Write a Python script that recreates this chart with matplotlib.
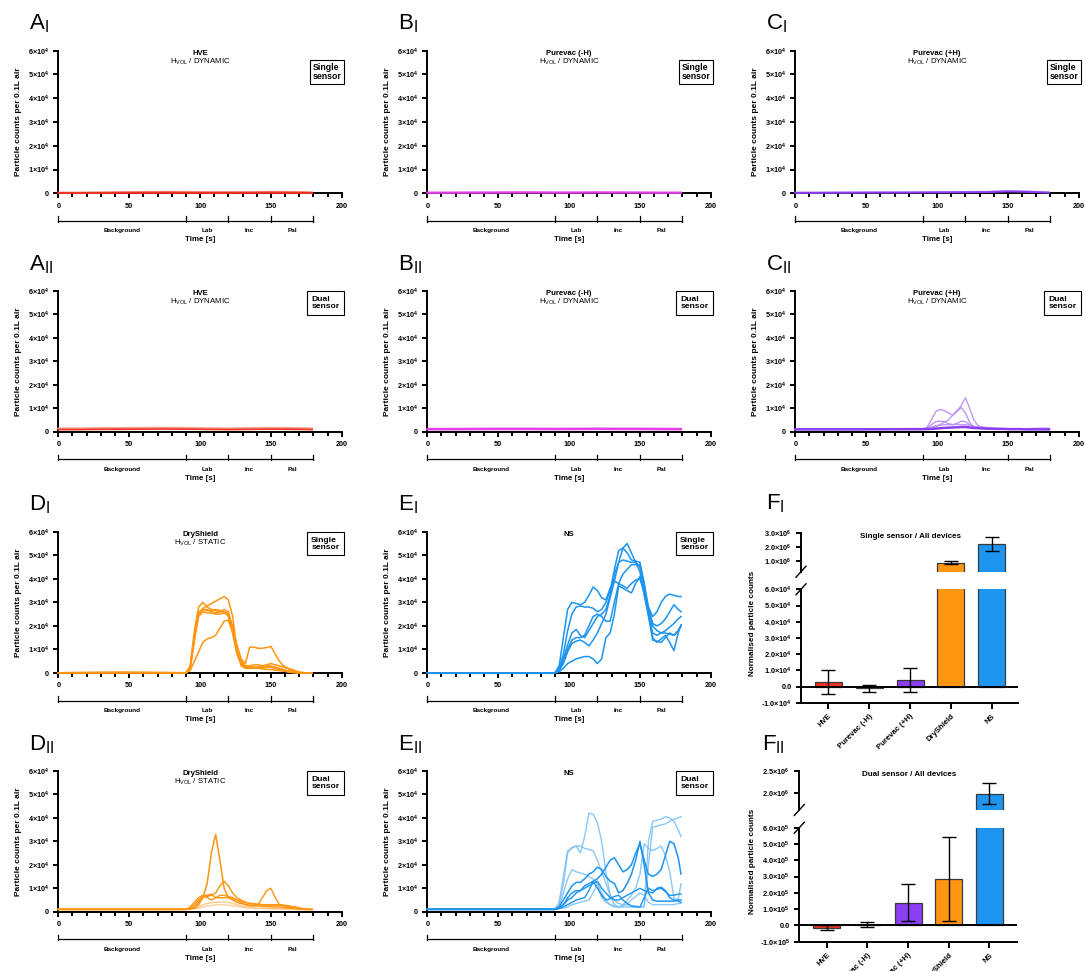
import numpy as np
import matplotlib
matplotlib.use("Agg")
import matplotlib.pyplot as plt
from matplotlib.lines import Line2D
from matplotlib.transforms import blended_transform_factory

plt.rcParams['font.family'] = ['Liberation Sans', 'DejaVu Sans']
plt.rcParams['mathtext.fontset'] = 'custom'
plt.rcParams['mathtext.rm'] = 'Liberation Sans'
plt.rcParams['mathtext.it'] = 'Liberation Sans:italic'
plt.rcParams['mathtext.bf'] = 'Liberation Sans:bold'

W, H, DPI = 1086, 971, 100

# ------------------------------------------------------------------ data
# time points [s]
time_flat = [0, 15, 30, 45, 60, 75, 90, 105, 120, 135, 150, 165, 179]
time_grid = [0, 45, 90, 93, 96, 99, 102, 105, 108, 111, 114, 117, 120, 123, 126, 129,
             132, 135, 138, 141, 144, 147, 150, 153, 156, 159, 162, 165, 168, 171, 174, 177, 179]

# particle counts per 0.1 L air, in thousands
hve_s_1 = [0.2, 0.2, 0.25, 0.3, 0.3, 0.35, 0.3, 0.25, 0.3, 0.3, 0.35, 0.3, 0.25]
hve_s_2 = [0.3, 0.3, 0.4, 0.5, 0.6, 0.7, 0.7, 0.6, 0.5, 0.5, 0.7, 0.7, 0.4]
hve_s_3 = [0.1, 0.1, 0.15, 0.2, 0.2, 0.2, 0.15, 0.1, 0.15, 0.2, 0.2, 0.15, 0.1]
hve_d_1 = [1.2, 1.2, 1.3, 1.3, 1.4, 1.4, 1.3, 1.2, 1.2, 1.3, 1.4, 1.3, 1.2]
hve_d_2 = [0.9, 0.9, 1.0, 1.0, 1.1, 1.2, 1.1, 1.0, 0.9, 1.0, 1.1, 1.0, 0.9]
hve_d_3 = [1.5, 1.5, 1.6, 1.7, 1.7, 1.8, 1.7, 1.6, 1.5, 1.6, 1.7, 1.7, 1.5]
pm_s_1 = [0.2, 0.2, 0.25, 0.25, 0.3, 0.3, 0.25, 0.25, 0.3, 0.3, 0.25, 0.2, 0.2]
pm_s_2 = [0.35, 0.35, 0.4, 0.4, 0.45, 0.45, 0.4, 0.4, 0.45, 0.4, 0.4, 0.35, 0.35]
pm_d_1 = [1.2, 1.2, 1.25, 1.3, 1.3, 1.3, 1.25, 1.3, 1.35, 1.3, 1.3, 1.25, 1.2]
pm_d_2 = [0.9, 0.9, 0.95, 1.0, 1.0, 1.0, 0.95, 1.0, 1.05, 1.0, 1.0, 0.95, 0.9]
pp_s_1 = [0.2, 0.2, 0.25, 0.3, 0.3, 0.3, 0.35, 0.4, 0.45, 0.5, 0.8, 0.6, 0.3]
pp_s_2 = [0.35, 0.35, 0.4, 0.4, 0.45, 0.45, 0.5, 0.6, 0.6, 0.7, 1.0, 0.8, 0.4]

pp_d_1 = [1, 1, 1, 1.2, 1.5, 2, 3, 4, 5, 7, 9, 11, 14.5, 10, 5, 2.5, 2, 1.8, 1.6, 1.5, 1.4, 1.3, 1.3, 1.2, 1.2, 1.2, 1.2, 1.3, 1.4, 1.5, 1.5, 1.5, 1.5]
pp_d_2 = [1, 1, 1, 2, 5, 8.5, 9.5, 9, 8, 7, 8.5, 10.3, 8, 4, 2, 1.6, 1.5, 1.4, 1.3, 1.3, 1.2, 1.2, 1.2, 1.2, 1.1, 1.1, 1.1, 1.1, 1.1, 1, 1, 1, 1]
pp_d_3 = [1, 1, 1, 1.5, 3, 4.2, 4.5, 4.3, 3.5, 3, 3.5, 4.5, 4.3, 3, 2, 1.6, 1.4, 1.3, 1.2, 1.2, 1.2, 1.1, 1.1, 1.1, 1.1, 1.1, 1, 1, 1, 1, 1, 1, 1]
pp_d_4 = [1, 1, 1, 1.3, 2, 2.5, 2.8, 3, 3, 3, 3.2, 3, 3, 2.7, 2.3, 2, 1.6, 1.4, 1.3, 1.2, 1.2, 1.1, 1.1, 1.1, 1.1, 1, 1, 1, 1, 1, 1, 1, 1]
pp_d_5 = [1, 1, 1.1, 1.1, 1.2, 1.3, 1.5, 1.6, 1.7, 1.8, 1.9, 2, 2, 1.8, 1.6, 1.5, 1.4, 1.3, 1.3, 1.2, 1.2, 1.2, 1.1, 1.1, 1.1, 1.1, 1, 1, 1, 1, 1, 1, 1]

ds_s_1 = [0.1, 0.2, 0.1, 2, 14, 25, 27.5, 28.5, 29.5, 30.5, 31.5, 32.5, 31, 24, 10, 4, 2.5, 2.5, 2.5, 2.5, 2.5, 2.5, 2.5, 2.2, 1.8, 1.2, 0.8, 0.4, 0.2, 0.1, 0.1, 0.1, 0.1]
ds_s_2 = [0.1, 0.3, 0.1, 3, 18, 28, 30, 28, 27, 26.5, 26, 26, 25, 18, 12, 6, 4, 11, 11, 10.5, 10.5, 10.8, 11.3, 8, 5, 3, 2, 1, 0.5, 0.2, 0.1, 0.1, 0.1]
ds_s_3 = [0.1, 0.2, 0.1, 2, 16, 26, 27, 26.5, 26.5, 27, 26.5, 26, 24, 17, 8, 4, 3, 3, 3.5, 3.5, 3, 3.5, 4, 3.5, 3, 2.5, 2, 1.5, 0.8, 0.3, 0.1, 0.1, 0.1]
ds_s_4 = [0.1, 0.1, 0.1, 1.5, 14, 24, 26, 25.5, 25.5, 25, 25, 25.5, 25, 20, 11, 4, 2.5, 2.5, 2.5, 2, 2, 2.5, 2.5, 2, 1.5, 1, 0.5, 0.2, 0.1, 0.1, 0.1, 0.1, 0.1]
ds_s_5 = [0.1, 0.1, 0.1, 1, 5, 9, 13, 14.5, 15, 16, 19, 22, 22.5, 17, 10, 5, 3, 2.5, 2, 2, 1.8, 1.5, 1.5, 1.2, 1, 0.8, 0.5, 0.3, 0.1, 0.1, 0.1, 0.1, 0.1]
ds_s_6 = [0.1, 0.2, 0.1, 2, 15, 25, 27, 27, 26, 25.5, 26, 27, 26, 19, 9, 3, 2, 2, 2, 2.5, 3, 3, 3, 2.5, 2, 1.5, 1, 0.6, 0.3, 0.1, 0.1, 0.1, 0.1]

ds_d_1 = [1, 1, 1, 1.2, 1.5, 3, 6, 12, 25, 33, 22, 10, 6, 5, 4, 3.5, 3, 2.8, 2.5, 2.5, 2.3, 2.2, 2.1, 2, 2, 1.8, 1.6, 1.5, 1.3, 1.2, 1.1, 1, 1]
ds_d_2 = [1, 1, 1, 2, 4, 6, 7, 6.5, 7, 8, 11, 13, 11, 8, 6, 5, 4, 3.5, 3.5, 3.2, 3, 3, 3, 3, 3, 2.8, 2.5, 2, 1.5, 1.2, 1, 1, 1]
ds_d_3 = [1, 1, 1, 1.5, 3, 5, 6.5, 6, 5, 6, 7, 7, 6.5, 6, 5, 4, 3, 2.5, 2.5, 3, 6, 9, 10, 6, 3, 2.5, 2, 1.8, 1.5, 1.2, 1, 1, 1]
ds_d_4 = [1, 1, 1, 1.2, 2, 4, 7, 7, 7.5, 6, 6, 6, 6, 5.5, 5, 4.5, 4, 3.5, 3.2, 3, 3, 2.8, 2.8, 2.8, 2.8, 2.7, 2.5, 2.2, 2, 1.5, 1.2, 1, 1]
ds_d_5 = [1, 1, 1, 1.2, 1.5, 2, 3, 3.5, 3.8, 4, 4, 4.2, 4, 3.5, 3, 2.5, 2, 1.8, 1.6, 1.5, 1.5, 1.4, 1.4, 1.3, 1.3, 1.2, 1.2, 1.1, 1.1, 1, 1, 1, 1]
ds_d_6 = [0.8, 0.8, 0.8, 1, 1.3, 1.5, 2, 2.5, 2.5, 3, 3, 3, 2.8, 2.5, 2.2, 2, 1.8, 1.6, 1.5, 1.4, 1.3, 1.3, 1.2, 1.2, 1.1, 1.1, 1, 1, 0.9, 0.9, 0.8, 0.8, 0.8]

ns_s_1 = [0.1, 0.1, 0.1, 3, 15, 27, 30, 29.5, 29, 30, 33, 36.5, 35, 32, 31, 36, 39, 38, 37, 36, 38, 39.5, 40, 34, 28, 24, 26, 30, 32.5, 33.5, 33, 32.5, 32.5]
ns_s_2 = [0.1, 0.1, 0.1, 2, 8, 18, 25, 28, 28.5, 28, 28, 27.5, 26, 27, 30, 35, 44, 52, 53, 51, 48, 47.5, 47, 38, 28, 21, 20, 21, 23, 26, 29, 27, 26]
ns_s_3 = [0.1, 0.1, 0.1, 1.5, 6, 12, 17, 18.5, 16, 15, 18, 21, 24, 25, 27, 33, 42, 47, 48, 47.5, 47, 47, 43, 33, 25, 17, 16, 17, 18, 19.5, 21, 23, 24]
ns_s_4 = [0.1, 0.1, 0.1, 1, 4, 9, 12.5, 13.5, 14, 13, 11.5, 14, 17, 21, 25, 32, 39, 47, 53, 55, 51, 47, 45, 34, 24, 15, 13, 14.5, 16, 13, 9.5, 17, 20.5]
ns_s_5 = [0.1, 0.1, 0.1, 0.5, 2, 4, 5, 6, 6.5, 7, 7, 6, 4, 6, 15, 17, 25, 37, 36, 35, 34, 38, 41, 36, 26, 14, 13.5, 13, 15, 17, 16, 18, 20]
ns_s_6 = [0.1, 0.1, 0.1, 1, 5, 10, 14, 15, 15, 16, 20, 24, 25, 24, 22, 22, 30, 38, 42, 44, 46, 46, 46, 38, 26, 20, 18, 17, 17, 16.5, 16, 18, 20]

ns_d_1 = [1, 1, 1, 4, 15, 26, 27, 28, 25, 32, 42, 41.5, 38, 30, 17, 7, 3, 2, 2, 2, 2, 2, 2, 2.5, 30, 38.5, 39, 39.5, 40.5, 40, 38.5, 35, 32]
ns_d_2 = [1, 1, 1, 3, 12, 25, 27.5, 28, 28, 27, 26.5, 26, 22, 17, 12, 7, 5, 3.5, 3, 3, 2.5, 2.5, 2, 2, 20, 36, 36.5, 37, 37.5, 38.5, 39.5, 40, 40.5]
ns_d_3 = [1, 1, 1, 2, 8, 14, 18, 17, 16.5, 16, 15, 14, 12, 8, 5, 3, 2, 2, 3, 5, 7, 10, 16, 29, 27, 26, 27, 28, 24, 17, 6, 5, 12]
ns_d_4 = [1, 1, 1, 1.5, 3, 5, 6, 8, 9, 11, 12, 13, 14, 16, 19, 22, 23, 20, 17, 18, 20, 25, 29, 22, 16, 15, 16, 18, 24, 30, 29, 23, 16]
ns_d_5 = [1, 1, 1, 2, 5, 8, 11, 12.5, 12.5, 14, 16, 17, 19, 18, 15, 13, 12, 8, 9, 12, 16, 22, 30, 20, 8, 5, 4.5, 4.5, 4.5, 4.5, 4.5, 5, 5]
ns_d_6 = [1, 1, 1, 1.5, 2, 3, 4, 5, 5.5, 6, 9, 13, 10, 7, 5, 5.5, 6.5, 7, 5, 3.5, 2.5, 2, 2, 6, 10, 9, 9.5, 10, 8.5, 7, 7, 7.5, 7.5]
ns_d_7 = [1, 1, 1, 1.2, 1.5, 2, 3, 3.5, 4, 4.5, 5, 8, 12, 6, 4, 3, 2.5, 2, 2.5, 3.5, 5, 6.5, 8, 7, 4, 3, 3, 3, 3, 3, 3, 3.5, 3.5]
ns_d_8 = [1, 1, 1, 1.5, 3, 6, 8, 9, 9, 10, 11, 12, 13, 10, 8, 6, 5, 5, 6, 7, 8, 9, 10, 9, 8.5, 8, 10, 10.5, 9, 6, 5, 4.5, 4]

# bar charts (normalised particle counts)
devices = ['HVE', 'Purevac (-H)', 'Purevac (+H)', 'DryShield', 'NS']
mean_single = [2900, -1200, 3800, 857000, 2190000]
sd_single = [7400, 2200, 7500, 100000, 500000]
mean_dual = [-15000, 5000, 140000, 285000, 1980000]
sd_dual = [15000, 15000, 112000, 258000, 240000]

# axes ticks / labels
x_major_ticks = [0, 50, 100, 150, 200]
x_major_labels = ['0', '50', '100', '150', '200']
x_minor_ticks = [0, 10, 20, 30, 40, 50, 60, 70, 80, 90, 100, 110, 120, 130, 140, 150, 160, 170, 180, 190, 200]
y_ticks = [0, 10000, 20000, 30000, 40000, 50000, 60000]
y_tick_labels = ['0'] + [f'{k}×10$^{{\\mathbf{{4}}}}$' for k in range(1, 7)]
segments = ['Background', 'Lab', 'Inc', 'Pal']
segment_bounds = [0, 90, 120, 150, 180]

fs_up_ticks = [1e6, 2e6, 3e6]
fs_up_labels = ['1.0×10$^{\\mathbf{6}}$', '2.0×10$^{\\mathbf{6}}$', '3.0×10$^{\\mathbf{6}}$']
fs_lo_ticks = [-1e4, 0, 1e4, 2e4, 3e4, 4e4, 5e4, 6e4]
fs_lo_labels = ['-1.0×10$^{\\mathbf{4}}$', '0.0'] + [f'{k}.0×10$^{{\\mathbf{{4}}}}$' for k in range(1, 7)]
fd_up_ticks = [2.0e6, 2.5e6]
fd_up_labels = ['2.0×10$^{\\mathbf{6}}$', '2.5×10$^{\\mathbf{6}}$']
fd_lo_ticks = [-1e5, 0, 1e5, 2e5, 3e5, 4e5, 5e5, 6e5]
fd_lo_labels = ['-1.0×10$^{\\mathbf{5}}$', '0.0'] + [f'{k}.0×10$^{{\\mathbf{{5}}}}$' for k in range(1, 7)]

# ------------------------------------------------------------------ style
RED = '#EE3322'
MAG = '#E23FE6'
PUR = '#8C3FF2'
ORA = '#FF9511'
BLU = '#1C94F0'
PUR_L = '#B88DF7'
ORA_L = '#FFBE73'
BLU_L = '#7DC2F7'
RED_L = '#F59A8A'
bar_colors = [RED, '#C63CE4', PUR, ORA, BLU]
SP_LW = 1.4

fig = plt.figure(figsize=(W / DPI, H / DPI), dpi=DPI)


def fx(px):
    return px / W


def fy(py):
    return 1 - py / H


def px_axes(left, top, right, bottom):
    return fig.add_axes([left / W, 1 - bottom / H, (right - left) / W, (bottom - top) / H])


def ts_panel(left, top, bottom, letter, sub, title, subtitle, sensor, series, row1):
    right = left + 283.5
    ax = px_axes(left, top, right, bottom)
    for t, vals, color, alpha, lw in series:
        ax.plot(t, np.asarray(vals) * 1000, color=color, alpha=alpha, lw=lw,
                clip_on=False, zorder=3, solid_joinstyle='round')
    ax.set_xlim(0, 200)
    ax.set_ylim(0, 60000)
    for s in ('top', 'right'):
        ax.spines[s].set_visible(False)
    for s in ('left', 'bottom'):
        ax.spines[s].set_linewidth(SP_LW)
    ax.set_xticks(x_major_ticks)
    ax.set_xticklabels(x_major_labels)
    ax.set_xticks(x_minor_ticks, minor=True)
    ax.set_yticks(y_ticks)
    ax.set_yticklabels(y_tick_labels)
    ax.tick_params(axis='both', which='major', direction='out', length=3.8, width=SP_LW,
                   labelsize=5.2, pad=3)
    ax.tick_params(axis='x', which='minor', direction='out', length=3.2, width=SP_LW)
    for lab in ax.get_xticklabels() + ax.get_yticklabels():
        lab.set_fontweight('bold')

    # stage bracket below the time axis
    tr = blended_transform_factory(ax.transData, fig.transFigure)
    yb = bottom + 27.7
    ax.add_line(Line2D([segment_bounds[0], segment_bounds[-1]], [fy(yb), fy(yb)], transform=tr,
                       color='black', lw=0.9, clip_on=False))
    for b in segment_bounds:
        ax.add_line(Line2D([b, b], [fy(yb + 0.8), fy(yb - 4.5)], transform=tr,
                           color='black', lw=0.9, clip_on=False))
    for i, name in enumerate(segments):
        mid = (segment_bounds[i] + segment_bounds[i + 1]) / 2
        ax.text(mid, fy(bottom + 37.4), name, transform=tr, ha='center', va='center',
                fontsize=4.6, fontweight='bold')
    ax.text(100, fy(bottom + 46.5), 'Time [s]', transform=tr, ha='center', va='center',
            fontsize=5.7, fontweight='bold')

    # texts
    fig.text(fx(left - 40), fy((top + bottom) / 2), 'Particle counts per 0.1L air', rotation=90,
             ha='center', va='center', fontsize=6.0, fontweight='bold')
    fig.text(fx(left - 29.5), fy(top - 21), letter + r'$_{\mathregular{' + sub + '}}$',
             fontsize=16, ha='left', va='baseline')
    cx = left + 283.5 / 2
    fig.text(fx(cx), fy(top + 2.8), title, ha='center', va='center', fontsize=5.6, fontweight='bold')
    if subtitle:
        fig.text(fx(cx), fy(top + 11), subtitle, ha='center', va='center', fontsize=5.6)
    if row1:
        fig.text(fx(right - 0.3), fy(top + 12.3), sensor, ha='right', va='top', fontsize=6.3,
                 fontweight='bold', linespacing=1.0, multialignment='left',
                 bbox=dict(boxstyle='square,pad=0.3', fc='white', ec='black', lw=0.8))
    else:
        fig.text(fx(right - 2.4), fy(top + 4.8), sensor, ha='right', va='top', fontsize=6.1,
                 fontweight='bold', linespacing=1.05, multialignment='left',
                 bbox=dict(boxstyle='square,pad=0.55', fc='white', ec='black', lw=0.8))
    return ax


def bar_panel(left, right, up_top, up_bot, lo_top, lo_bot, up_lim, lo_lim, up_ticks, up_labels,
              lo_ticks, lo_labels, means, sds, title, title_y, letter_xy, sub, ylab_y, xlim):
    axu = px_axes(left, up_top, right, up_bot)
    axl = px_axes(left, lo_top, right, lo_bot)
    xpos = np.arange(len(devices))
    for ax, lim, ticks, labels in ((axu, up_lim, up_ticks, up_labels),
                                   (axl, lo_lim, lo_ticks, lo_labels)):
        ax.bar(xpos, means, width=0.66, color=bar_colors, edgecolor='#3a3a3a', linewidth=0.9, zorder=2)
        ax.errorbar(xpos, means, yerr=sds, fmt='none', ecolor='black', elinewidth=1.0,
                    capsize=4.7, capthick=1.0, zorder=3)
        ax.set_xlim(*xlim)
        ax.set_ylim(*lim)
        ax.set_yticks(ticks)
        ax.set_yticklabels(labels)
        ax.spines['top'].set_visible(False)
        ax.spines['right'].set_visible(False)
        ax.spines['left'].set_linewidth(SP_LW)
        ax.tick_params(axis='y', direction='out', length=3.8, width=SP_LW, labelsize=5.3, pad=3)
        for lab in ax.get_yticklabels():
            lab.set_fontweight('bold')
    axu.spines['bottom'].set_visible(False)
    axu.set_xticks([])
    axl.spines['bottom'].set_linewidth(SP_LW)
    axl.axhline(0, color='black', lw=SP_LW, zorder=4)
    axl.set_xticks(xpos)
    axl.set_xticklabels(devices, rotation=45, ha='right', va='top', rotation_mode='anchor')
    axl.tick_params(axis='x', direction='out', length=4.2, width=SP_LW, labelsize=5.6, pad=3)
    for lab in axl.get_xticklabels():
        lab.set_fontweight('bold')
    # axis break marks
    for yb in (up_bot, lo_top):
        fig.add_artist(Line2D([fx(left - 5), fx(left + 5)], [fy(yb + 5.5), fy(yb - 5.5)],
                              color='black', lw=1.0))
    fig.text(fx((left + right) / 2 + 1), fy(title_y), title, ha='center', va='center',
             fontsize=5.8, fontweight='bold')
    fig.text(fx(753), fy(ylab_y), 'Normalised particle counts', rotation=90, ha='center',
             va='center', fontsize=5.9, fontweight='bold')
    fig.text(fx(letter_xy[0]), fy(letter_xy[1]), 'F' + r'$_{\mathregular{' + sub + '}}$',
             fontsize=16, ha='left', va='baseline')


COLS = [58.3, 427.3, 795.3]
ROWS = [(50.7, 193.3), (291.0, 431.7), (531.7, 673.0), (771.0, 911.7)]
HDYN = r'H$_{\mathregular{VOL}}$ / DYNAMIC'
HSTA = r'H$_{\mathregular{VOL}}$ / STATIC'
SGL = 'Single\nsensor'
DUL = 'Dual\nsensor'

# Row 1 -- single sensor
ts_panel(COLS[0], *ROWS[0], 'A', 'I', 'HVE', HDYN, SGL,
         [(time_flat, hve_s_2, RED_L, 0.8, 1.2), (time_flat, hve_s_1, RED, 1, 1.4),
          (time_flat, hve_s_3, RED, 1, 1.2)], True)
ts_panel(COLS[1], *ROWS[0], 'B', 'I', 'Purevac (-H)', HDYN, SGL,
         [(time_flat, pm_s_1, MAG, 1, 1.4), (time_flat, pm_s_2, MAG, 1, 1.2)], True)
ts_panel(COLS[2], *ROWS[0], 'C', 'I', 'Purevac (+H)', HDYN, SGL,
         [(time_flat, pp_s_2, PUR_L, 0.9, 1.2), (time_flat, pp_s_1, PUR, 1, 1.4)], True)

# Row 2 -- dual sensor
ts_panel(COLS[0], *ROWS[1], 'A', 'II', 'HVE', HDYN, DUL,
         [(time_flat, hve_d_1, RED, 1, 1.4), (time_flat, hve_d_2, RED, 1, 1.2),
          (time_flat, hve_d_3, RED_L, 0.8, 1.2)], False)
ts_panel(COLS[1], *ROWS[1], 'B', 'II', 'Purevac (-H)', HDYN, DUL,
         [(time_flat, pm_d_1, MAG, 1, 1.5), (time_flat, pm_d_2, MAG, 1, 1.3)], False)
ts_panel(COLS[2], *ROWS[1], 'C', 'II', 'Purevac (+H)', HDYN, DUL,
         [(time_grid, pp_d_1, PUR_L, 0.9, 1.0), (time_grid, pp_d_2, PUR_L, 0.9, 1.0),
          (time_grid, pp_d_3, PUR_L, 0.9, 1.0), (time_grid, pp_d_4, PUR_L, 0.9, 1.0),
          (time_grid, pp_d_5, PUR, 1, 1.8)], False)

# Row 3 -- single sensor
ts_panel(COLS[0], *ROWS[2], 'D', 'I', 'DryShield', HSTA, SGL,
         [(time_grid, v, ORA, 1, 1.1) for v in (ds_s_1, ds_s_2, ds_s_3, ds_s_4, ds_s_5, ds_s_6)],
         False)
ts_panel(COLS[1], *ROWS[2], 'E', 'I', 'NS', None, SGL,
         [(time_grid, v, BLU, 1, 1.1) for v in (ns_s_1, ns_s_2, ns_s_3, ns_s_4, ns_s_5, ns_s_6)],
         False)

# Row 4 -- dual sensor
ts_panel(COLS[0], *ROWS[3], 'D', 'II', 'DryShield', HSTA, DUL,
         [(time_grid, ds_d_6, ORA_L, 0.7, 1.0), (time_grid, ds_d_5, ORA_L, 0.8, 1.0),
          (time_grid, ds_d_4, ORA, 1, 1.0), (time_grid, ds_d_3, ORA, 1, 1.0),
          (time_grid, ds_d_2, ORA, 1, 1.0), (time_grid, ds_d_1, ORA, 1, 1.1)], False)
ts_panel(COLS[1], *ROWS[3], 'E', 'II', 'NS', None, DUL,
         [(time_grid, ns_d_1, BLU_L, 0.9, 1.0), (time_grid, ns_d_2, BLU_L, 0.9, 1.0),
          (time_grid, ns_d_3, BLU_L, 0.9, 1.0), (time_grid, ns_d_7, BLU_L, 0.9, 1.0),
          (time_grid, ns_d_4, BLU, 1, 1.1), (time_grid, ns_d_5, BLU, 1, 1.1),
          (time_grid, ns_d_6, BLU, 1, 1.0), (time_grid, ns_d_8, BLU, 1, 1.0)], False)

# F panels
bar_panel(801, 1018, 532.7, 571.7, 589.3, 702.7, (0.21e6, 3.0e6), (-1e4, 6e4),
          fs_up_ticks, fs_up_labels, fs_lo_ticks, fs_lo_labels, mean_single, sd_single,
          'Single sensor / All devices', 537, (766.5, 509.5), 'I', 623, (-0.67, 4.64))
bar_panel(799.3, 1016.7, 771.0, 810.0, 827.7, 941.7, (1.6e6, 2.5e6), (-1e5, 6e5),
          fd_up_ticks, fd_up_labels, fd_lo_ticks, fd_lo_labels, mean_dual, sd_dual,
          'Dual sensor / All devices', 774, (761.5, 750.5), 'II', 861, (-0.674, 4.67))

fig.savefig('out.png', dpi=DPI, facecolor='white')
